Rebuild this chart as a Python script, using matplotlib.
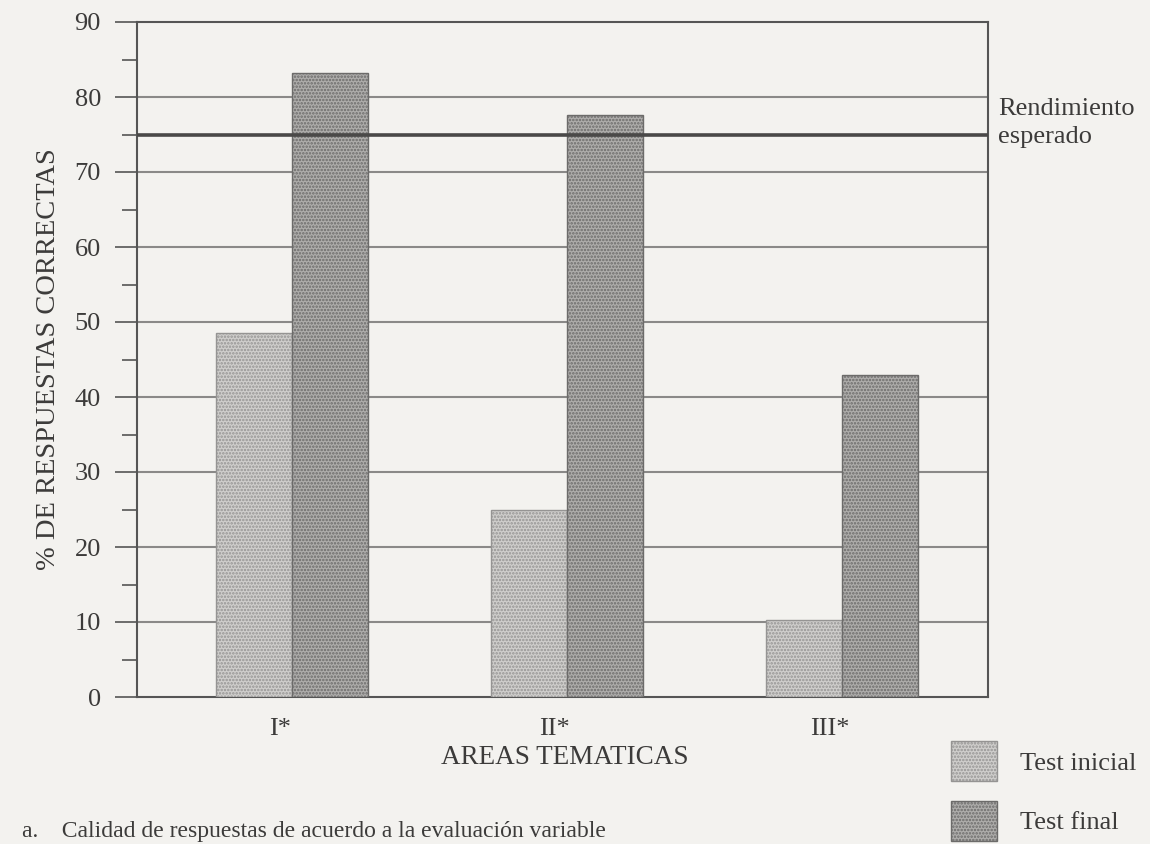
import matplotlib
matplotlib.use("Agg")
import matplotlib.pyplot as plt
import numpy as np

# ---- data ----
areas = ["I*", "II*", "III*"]
test_inicial = [48.5, 25.0, 10.3]
test_final = [83.2, 77.6, 43.0]
rendimiento_esperado = 75
yticks = [0, 10, 20, 30, 40, 50, 60, 70, 80, 90]
series_labels = ["Test inicial", "Test final"]

plt.rcParams['font.family'] = ['Liberation Serif', 'DejaVu Serif']
plt.rcParams['hatch.linewidth'] = 1.2
TXT = '#3c3b3a'
PAPER = '#f3f2ef'

fig = plt.figure(figsize=(11.5, 8.44), dpi=100, facecolor=PAPER)
ax = fig.add_axes([137/1150, 1-697/844, (988-137)/1150, (697-22)/844])
ax.set_facecolor(PAPER)

x = np.arange(len(areas))
w = 0.276
b1 = ax.bar(x - w/2, test_inicial, width=w, facecolor='#cfcecc',
            edgecolor='#959493', hatch='.....', linewidth=1.0, zorder=3,
            label=series_labels[0])
b2 = ax.bar(x + w/2, test_final, width=w, facecolor='#aeadab',
            edgecolor='#6c6b6a', hatch='.....', linewidth=1.0, zorder=3,
            label=series_labels[1])

ax.set_ylim(0, 90)
ax.set_xlim(-0.5636, 2.531)
ax.set_yticks(yticks)
ax.set_yticks(np.arange(5, 90, 10), minor=True)
ax.tick_params(axis='y', which='major', length=16, width=1.2, color='#555555',
               pad=10, labelsize=19, labelcolor=TXT)
ax.tick_params(axis='y', which='minor', length=11, width=1.2, color='#555555')
ax.set_xticks(x - 0.045)
ax.set_xticklabels(areas)
ax.tick_params(axis='x', length=0, pad=15, labelsize=19, labelcolor=TXT)

for v in yticks[1:-1]:
    ax.axhline(v, color='#8a8988', linewidth=1.5, zorder=1)
ax.axhline(rendimiento_esperado, color='#4a4948', linewidth=2.6, zorder=4)

for s in ax.spines.values():
    s.set_color('#555555')
    s.set_linewidth(1.5)

ax.set_ylabel("% DE RESPUESTAS CORRECTAS", fontsize=20.5, color=TXT, labelpad=10)

ax.annotate("Rendimiento\nesperado", xy=(1.0, rendimiento_esperado),
            xycoords=('axes fraction', 'data'), xytext=(7, 8),
            textcoords='offset points', ha='left', va='center',
            fontsize=19, color=TXT, linespacing=1.35, annotation_clip=False)

fig.text(565/1150, 1-758/844, "AREAS TEMATICAS", ha='center', va='center',
         fontsize=19.5, color=TXT)

fig.legend(handles=[b1, b2], labels=series_labels, loc='upper left',
           bbox_to_anchor=(946/1150, 1-736/844), frameon=False,
           fontsize=19, handlelength=1.75, handleheight=1.95,
           labelspacing=0.75, handletextpad=0.87, labelcolor=TXT,
           borderaxespad=0, borderpad=0.2)

fig.text(22/1150, 2/844, "a.    Calidad de respuestas de acuerdo a la evaluación variable",
         ha='left', va='bottom', fontsize=17, color=TXT)

fig.savefig("out.png", dpi=100, facecolor=PAPER)
